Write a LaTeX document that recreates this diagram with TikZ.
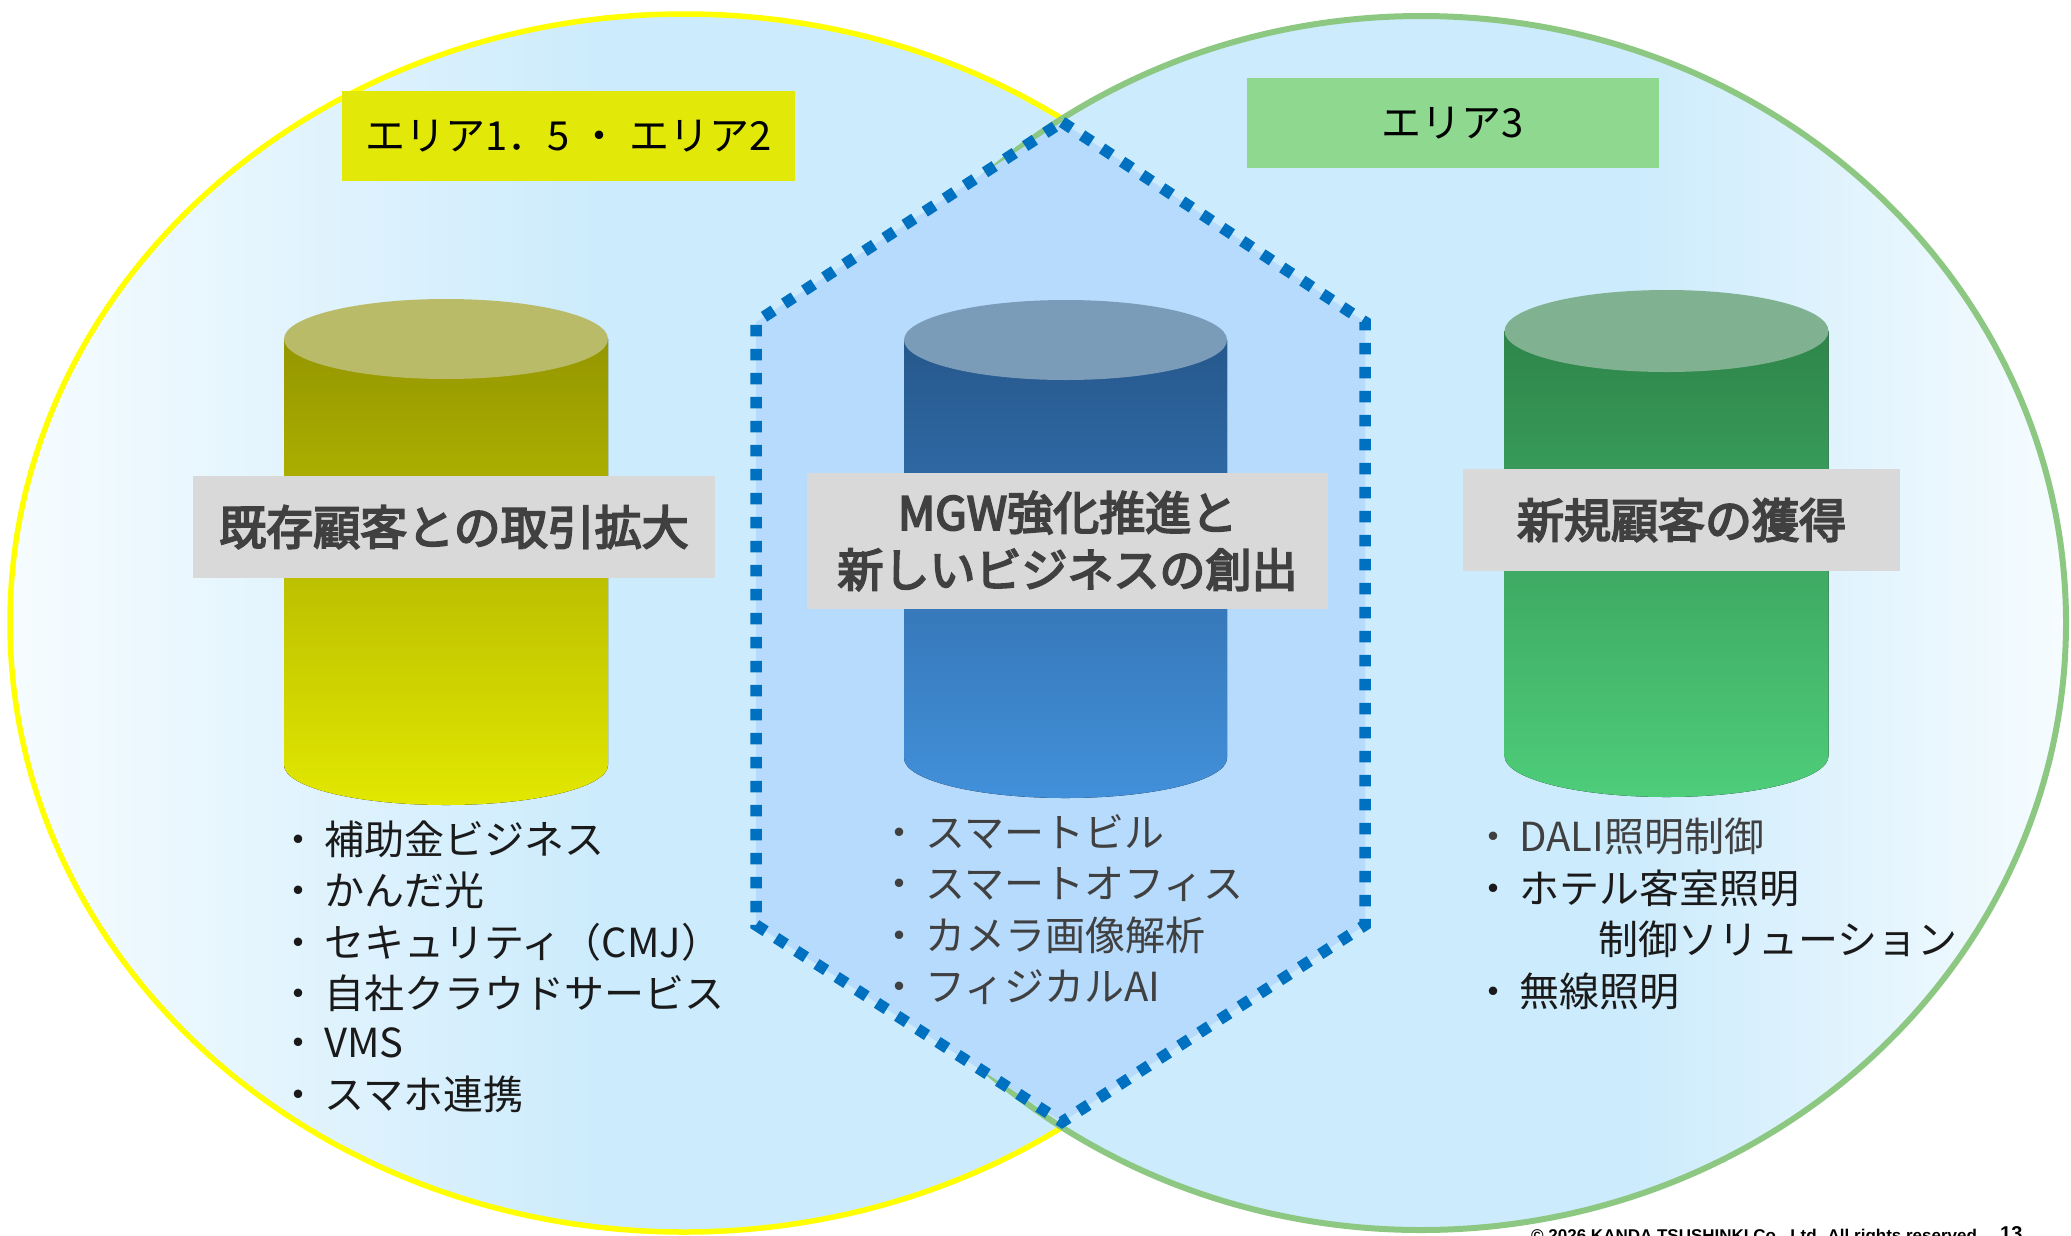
\documentclass[tikz,border=0pt]{standalone}
\usepackage{fontspec}
\setmainfont{Noto Sans CJK JP}
\newfontfamily\titlefont{Noto Sans CJK JP}[FakeBold=4]
\newfontfamily\latinb{Liberation Sans}
\definecolor{eblue}{RGB}{204,235,252}
\definecolor{ewhite}{RGB}{246,252,255}
\definecolor{hexfill}{RGB}{183,219,252}
\definecolor{hexdot}{RGB}{0,112,192}
\definecolor{yline}{RGB}{255,255,0}
\definecolor{gline}{RGB}{141,200,130}
\definecolor{ylab}{RGB}{226,232,8}
\definecolor{glab}{RGB}{143,216,143}
\definecolor{graybox}{RGB}{217,217,217}
\definecolor{graytext}{RGB}{64,64,64}
\definecolor{blacktext}{RGB}{26,26,26}
\definecolor{cyTop}{RGB}{185,187,104}
\definecolor{cyA}{RGB}{148,150,0}
\definecolor{cyB}{RGB}{226,232,0}
\definecolor{cbTop}{RGB}{123,156,185}
\definecolor{cbA}{RGB}{38,88,140}
\definecolor{cbB}{RGB}{66,144,218}
\definecolor{cgTop}{RGB}{128,177,144}
\definecolor{cgA}{RGB}{46,133,74}
\definecolor{cgB}{RGB}{78,205,122}
\pgfdeclarehorizontalshading{leftell}{100bp}{color(0bp)=(ewhite); color(25bp)=(ewhite); color(47bp)=(eblue); color(100bp)=(eblue)}
\pgfdeclarehorizontalshading{rightell}{100bp}{color(0bp)=(eblue); color(58bp)=(eblue); color(75bp)=(ewhite); color(100bp)=(ewhite)}
\newcommand\mycyl[8]{%
  \fill[top color=#7, bottom color=#8] (#1-#4,#2) -- (#1-#4,#3) arc[start angle=180,end angle=360,x radius=#4pt,y radius=#5pt] -- (#1+#4,#2) -- cycle;
  \fill[#6] (#1,#2) ellipse[x radius=#4pt, y radius=#5pt];
}
\begin{document}
\begin{tikzpicture}[x=1pt,y=-1pt,
  areabox/.style={inner sep=0pt, font=\fontsize{40pt}{48pt}\selectfont, text=black},
  titlebox/.style={fill=graybox, inner sep=0pt, align=center, text=graytext, font=\titlefont\fontsize{47pt}{57pt}\selectfont},
  listitem/.style={anchor=west, inner sep=0pt, font=\fontsize{40pt}{48pt}\selectfont},
  hexline/.style={fill=hexfill, draw=hexdot, line width=11.5pt, dash pattern=on 11.5pt off 12.5pt}]
\useasboundingbox (0,0) rectangle (2071,1235);
\clip (0,0) rectangle (2071,1235);
% ellipses
\path[shade, shading=leftell, draw=yline, line width=5.5pt] (684,623) ellipse[x radius=674pt, y radius=609pt];
\path[shade, shading=rightell, draw=gline, line width=6pt] (1421,623) ellipse[x radius=645pt, y radius=607pt];
% hexagon
\draw[hexline] (1062,122) -- (1365,322) -- (1365,925) -- (1062,1122) -- (756,925) -- (756,322) -- cycle;
% area labels
\node[areabox, fill=ylab, minimum width=453pt, minimum height=90pt] (area12) at (568.5,136) {エリア1．5\kern10pt・\kern10pt エリア2};
\node[areabox, fill=glab, minimum width=412pt, minimum height=90pt] (area3) at (1453,123) {エリア3};
% cylinders
\mycyl{446}{339}{765}{162}{40}{cyTop}{cyA}{cyB}
\mycyl{1065.5}{340}{758}{161.5}{40}{cbTop}{cbA}{cbB}
\mycyl{1666.5}{331}{756}{162}{41}{cgTop}{cgA}{cgB}
% titles
\node[titlebox, minimum width=522pt, minimum height=102pt] (t1) at (454,527) {既存顧客との取引拡大};
\node[titlebox, minimum width=521pt, minimum height=136pt, font=\titlefont\fontsize{46pt}{57pt}\selectfont] (t2) at (1067.5,541) {MGW強化推進と\\新しいビジネスの創出};
\node[titlebox, minimum width=437pt, minimum height=102pt] (t3) at (1681.5,520) {新規顧客の獲得};
% left list
\node[listitem, text=blacktext] (l1) at (278,839) {・\kern6pt 補助金ビジネス};
\node[listitem, text=blacktext] (l2) at (278,890) {・\kern6pt かんだ光};
\node[listitem, text=blacktext] (l3) at (278,942) {・\kern6pt セキュリティ（CMJ）};
\node[listitem, text=blacktext] (l4) at (278,993) {・\kern6pt 自社クラウドサービス};
\node[listitem, text=blacktext] (l5) at (278,1043) {・\kern6pt VMS};
\node[listitem, text=blacktext] (l6) at (278,1094) {・\kern6pt スマホ連携};
% middle list
\node[listitem, text=graytext] (m1) at (879,832) {・\kern6pt スマートビル};
\node[listitem, text=graytext] (m2) at (879,884) {・\kern6pt スマートオフィス};
\node[listitem, text=graytext] (m3) at (879,935) {・\kern6pt カメラ画像解析};
\node[listitem, text=graytext] (m4) at (879,987) {・\kern6pt フィジカルAI};
% right list
\node[listitem, text=graytext] (r1) at (1473,836) {・\kern6pt DALI照明制御};
\node[listitem, text=blacktext] (r2) at (1473,888) {・\kern6pt ホテル客室照明};
\node[listitem, text=blacktext] (r3) at (1598,939) {制御ソリューション};
\node[listitem, text=blacktext] (r4) at (1473,991) {・\kern6pt 無線照明};
% footer (cut off at the lower edge, as in the original)
\node[anchor=base west, inner sep=0pt, font=\latinb\bfseries\fontsize{17pt}{19pt}\selectfont] (copy) at (1531,1241) {© 2026 KANDA TSUSHINKI Co., Ltd. All rights reserved.};
\node[anchor=base west, inner sep=0pt, font=\latinb\bfseries\fontsize{20pt}{22pt}\selectfont] (pageno) at (2000,1240) {13};
\end{tikzpicture}
\end{document}
